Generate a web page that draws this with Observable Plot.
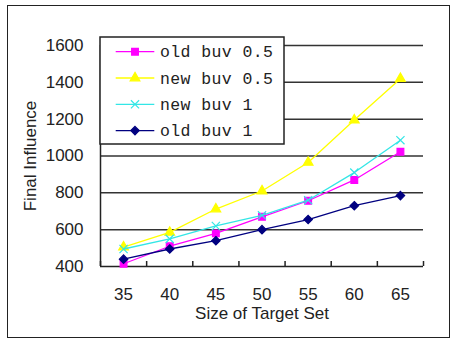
<!DOCTYPE html>
<html><head><meta charset="utf-8">
<script src="https://cdn.jsdelivr.net/npm/d3@7"></script>
<script src="https://cdn.jsdelivr.net/npm/@observablehq/plot@0.6"></script>
<style>
html,body{margin:0;padding:0;background:#fff;}
#wrap{position:relative;width:453px;height:340px;overflow:hidden;background:#fff;}
#chart{position:absolute;left:0;top:0;}
#legend{position:absolute;left:99px;top:36px;}
#frame{position:absolute;left:7px;top:5px;width:443px;height:333px;box-sizing:border-box;border:1.5px solid #222;pointer-events:none;}
</style></head><body>
<div id="wrap"><div id="chart"></div><div id="legend"></div><div id="frame"></div></div>
<script>
const categories = [35, 40, 45, 50, 55, 60, 65];
const oldBuv05 = [415, 510, 580, 670, 757, 870, 1023];
const newBuv05 = [505, 585, 712, 810, 965, 1195, 1420];
const newBuv1 = [495, 550, 620, 678, 760, 910, 1086];
const oldBuv1 = [440, 495, 540, 600, 655, 730, 785];
const seriesNames = ["old buv 0.5", "new buv 0.5", "new buv 1", "old buv 1"];
const seriesValues = [oldBuv05, newBuv05, newBuv1, oldBuv1];
const seriesColors = ["#ff00ff", "#ffff00", "#33e6e6", "#000080"];
const seriesSymbols = ["square", "triangle", "times", "diamond2"];
const yTicks = [400, 600, 800, 1000, 1200, 1400, 1600];
const xLabel = "Size of Target Set";
const yLabel = "Final Influence";

const step = categories[1] - categories[0];
const xDomain = [categories[0] - step / 2, categories[categories.length - 1] + step / 2];
const boundaries = d3.range(categories.length + 1).map(i => xDomain[0] + i * step);
const yDomain = [yTicks[0], yTicks[yTicks.length - 1]];

const rows = seriesNames.flatMap((name, s) =>
  categories.map((c, i) => ({series: name, x: c, y: seriesValues[s][i]})));

const seriesMarks = seriesNames.flatMap((name, s) => {
  const d = rows.filter(r => r.series === name);
  return [
    Plot.line(d, {x: "x", y: "y", stroke: "series", strokeWidth: 1.3}),
    Plot.dot(d, {x: "x", y: "y", symbol: "series", fill: "series", stroke: "series", strokeWidth: 1.2, r: seriesSymbols[s] === "triangle" ? 3.6 : 3.8})
  ];
});

const chart = Plot.plot({
  width: 453,
  height: 340,
  marginLeft: 100,
  marginRight: 30,
  marginTop: 45,
  marginBottom: 74,
  style: {fontFamily: "'Liberation Sans', Arial, sans-serif", fontSize: "17px", color: "#222", background: "transparent", overflow: "visible"},
  x: {type: "linear", domain: xDomain},
  y: {type: "linear", domain: yDomain},
  color: {domain: seriesNames, range: seriesColors},
  symbol: {domain: seriesNames, range: seriesSymbols},
  marks: [
    Plot.ruleY(yTicks.slice(1), {stroke: "#333", strokeWidth: 1.5}),
    Plot.ruleY([yDomain[0]], {stroke: "#222", strokeWidth: 1.5}),
    Plot.ruleX([xDomain[0]], {y1: yDomain[0], y2: yDomain[1], stroke: "#222", strokeWidth: 1.5}),
    Plot.axisX({ticks: boundaries, tickSize: -5, tickFormat: () => "", label: null, stroke: "#222", strokeWidth: 1.5}),
    Plot.axisX({ticks: categories, tickSize: 0, tickPadding: 21, fontSize: 17, tickFormat: d3.format("d"), label: xLabel, labelAnchor: "center", labelOffset: 52, labelArrow: "none"}),
    Plot.axisY({ticks: yTicks, tickSize: 0, tickPadding: 17, fontSize: 17, tickFormat: d3.format("d"), label: yLabel, labelAnchor: "center", labelOffset: 77, labelArrow: "none"}),
    ...seriesMarks
  ]
});
document.getElementById("chart").appendChild(chart);

// legend
const lg = d3.select("#legend").append("svg").attr("width", 188).attr("height", 111);
lg.append("rect").attr("x", 1).attr("y", 1).attr("width", 184).attr("height", 107)
  .attr("fill", "#fff").attr("stroke", "#222").attr("stroke-width", 1.5);
const symMap = {square: d3.symbolSquare, triangle: d3.symbolTriangle, times: d3.symbolTimes, diamond2: d3.symbolDiamond2};
seriesNames.forEach((name, i) => {
  const g = lg.append("g").attr("transform", `translate(1,${15.7 + i * 26.3})`);
  g.append("line").attr("x1", 15.7).attr("x2", 54.3).attr("stroke", seriesColors[i]).attr("stroke-width", 1.3);
  const r = seriesSymbols[i] === "triangle" ? 3.6 : 3.8;
  g.append("path").attr("transform", "translate(35,0)")
    .attr("d", d3.symbol(symMap[seriesSymbols[i]], Math.PI * r * r)())
    .attr("fill", seriesColors[i]).attr("stroke", seriesColors[i]).attr("stroke-width", 1.2);
  g.append("text").attr("x", 60).attr("dy", "0.35em").text(name)
    .attr("font-family", "'Liberation Mono', 'DejaVu Sans Mono', monospace")
    .attr("font-size", 16.5).attr("letter-spacing", 0.4).attr("fill", "#222");
});
</script>
</body></html>
